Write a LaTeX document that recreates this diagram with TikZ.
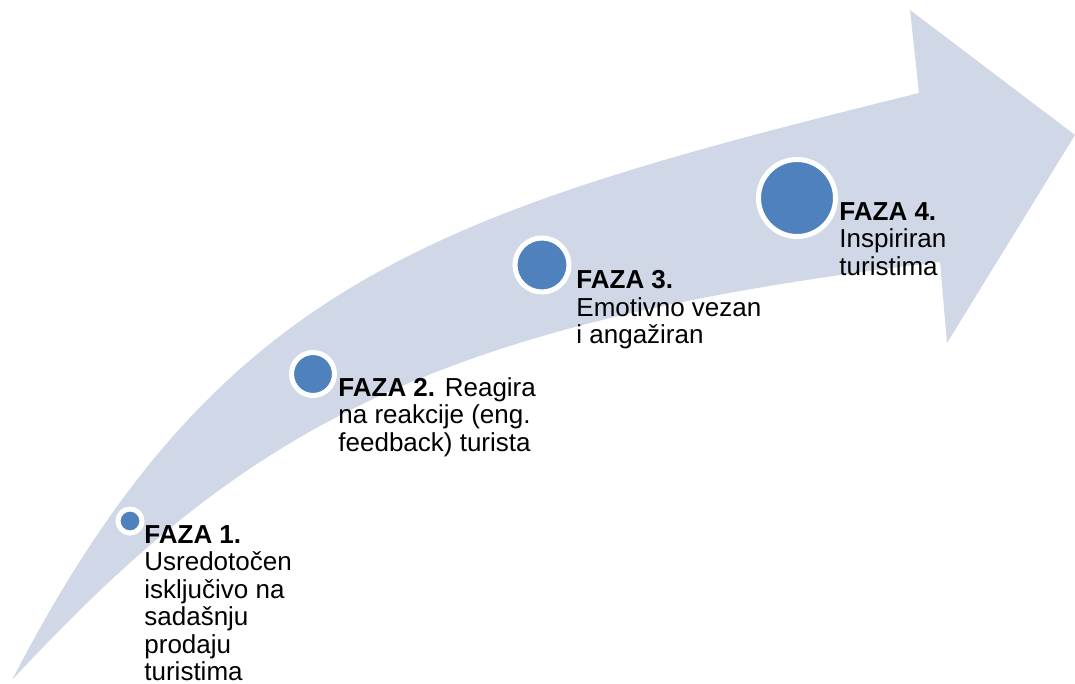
\documentclass[tikz,border=0pt]{standalone}
\usepackage{fontspec}
\setmainfont{Liberation Sans}
\definecolor{arrowfill}{RGB}{208,216,232}
\definecolor{dotfill}{RGB}{79,129,189}
\begin{document}
\begin{tikzpicture}[x=0.5pt,y=-0.5pt,
    phasedot/.style={circle,draw=white,line width=2.5pt,fill=dotfill,inner sep=0pt},
    phasetext/.style={anchor=north west,align=left,inner sep=0pt,
      font=\fontsize{13}{13.75}\selectfont}]
  \useasboundingbox (0,0) rectangle (1075,684);
  % curved arrow
  \fill[arrowfill] (12,680) .. controls (219,280) and (434,213) .. (919,93)
    -- (910,10) -- (1075,135) -- (947,343) -- (940,262)
    .. controls (424,323) and (243,432) .. (12,680) -- cycle;
  % phases
  \node[phasedot,minimum size=12pt] (f1) at (130,521) {};
  \node[phasedot,minimum size=21.5pt] (f2) at (313,374) {};
  \node[phasedot,minimum size=27pt] (f3) at (542,265) {};
  \node[phasedot,minimum size=38.5pt] (f4) at (797,198) {};
  % labels
  \node[phasetext] (t1) at (144,525) {\textbf{FAZA 1.}\\Usredotočen\\isključivo na\\sadašnju\\prodaju\\turistima};
  \node[phasetext] (t2) at (338,377) {\textbf{FAZA 2.} Reagira\\na reakcije (eng.\\feedback) turista};
  \node[phasetext] (t3) at (576,270) {\textbf{FAZA 3.}\\Emotivno vezan\\i angažiran};
  \node[phasetext] (t4) at (839,202) {\textbf{FAZA 4.}\\Inspiriran\\turistima};
\end{tikzpicture}
\end{document}
